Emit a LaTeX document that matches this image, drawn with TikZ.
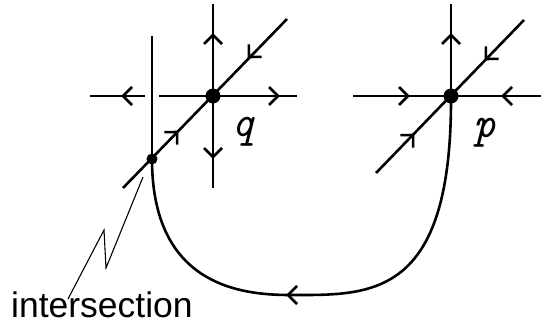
\documentclass[tikz,border=0pt]{standalone}
\usepackage{fontspec}
\setmainfont{Liberation Sans}
\begin{document}
\begin{tikzpicture}[x=1pt,y=-1pt,
  manifold/.style={line width=2.6pt, line cap=butt},
  leader/.style={line width=1.1pt, line join=miter},
  barb/.pic={\draw[line width=2.6pt, line cap=butt, line join=miter] (-9,-9) -- (0,0) -- (-9,9);},
  ptlabel/.style={font=\ttfamily\itshape\fontsize{44}{48}\selectfont, inner sep=0pt, anchor=base},
  txtlabel/.style={font=\fontsize{35.5}{40}\selectfont, inner sep=0pt, anchor=base west}]
\useasboundingbox (0,0) rectangle (541,324);
% fixed points
\coordinate (q) at (213,96);
\coordinate (p) at (451,96);
\coordinate (ix) at (152,159);
% --- q ---
\coordinate (qhl) at (90,96);
\coordinate (qhg1) at (145,96);
\coordinate (qhg2) at (159,96);
\coordinate (qhr) at (297,96);
\coordinate (qvt) at (213,4);
\coordinate (qvb) at (213,188);
\coordinate (qdl) at (123,188);
\coordinate (qdr) at (287,19);
\coordinate (ivt) at (152,36);
\draw[manifold] (qhl) -- (qhg1);
\draw[manifold] (qhg2) -- (qhr);
\draw[manifold] (qvt) -- (qvb);
\draw[manifold] (qdl) -- (qdr);
\draw[manifold] (ivt) -- (ix);
\pic[rotate=180] at (123,96) {barb};
\pic at (278,96) {barb};
\pic[rotate=90] at (213,35) {barb};
\pic[rotate=270] at (213,157) {barb};
\pic[rotate=225.86] at (249,57) {barb};
\pic[rotate=45.86] at (177,132) {barb};
% --- p ---
\coordinate (phl) at (353,96);
\coordinate (phr) at (541,96);
\coordinate (pvt) at (451,4);
\coordinate (pdl) at (376,173);
\coordinate (pdr) at (524,20);
\draw[manifold] (phl) -- (phr);
\draw[manifold] (pvt) -- (p);
\draw[manifold] (pdl) -- (pdr);
\pic at (408,96) {barb};
\pic[rotate=180] at (503,96) {barb};
\pic[rotate=90] at (451,35) {barb};
\pic[rotate=225.86] at (486,59) {barb};
\pic[rotate=45.86] at (413,135) {barb};
% connecting orbit
\draw[manifold] (p) .. controls (452,300) and (370,295) .. (290,295)
                    .. controls (240,295) and (152,285) .. (ix);
\pic[rotate=180] at (288,295) {barb};
% dots
\fill (q) circle (7.5);
\fill (p) circle (7.5);
\fill (ix) circle (5.5);
% labels
\node[ptlabel] (ql) at (243,136) {q};
\node[ptlabel] (pl) at (485,137) {p};
\node[txtlabel] (il) at (11,317) {intersection};
% leader
\coordinate (l1) at (143,177);
\coordinate (l2) at (106,268);
\coordinate (l3) at (104,230);
\coordinate (l4) at (68,299);
\draw[leader] (l1) -- (l2) -- (l3) -- (l4);
\end{tikzpicture}
\end{document}
